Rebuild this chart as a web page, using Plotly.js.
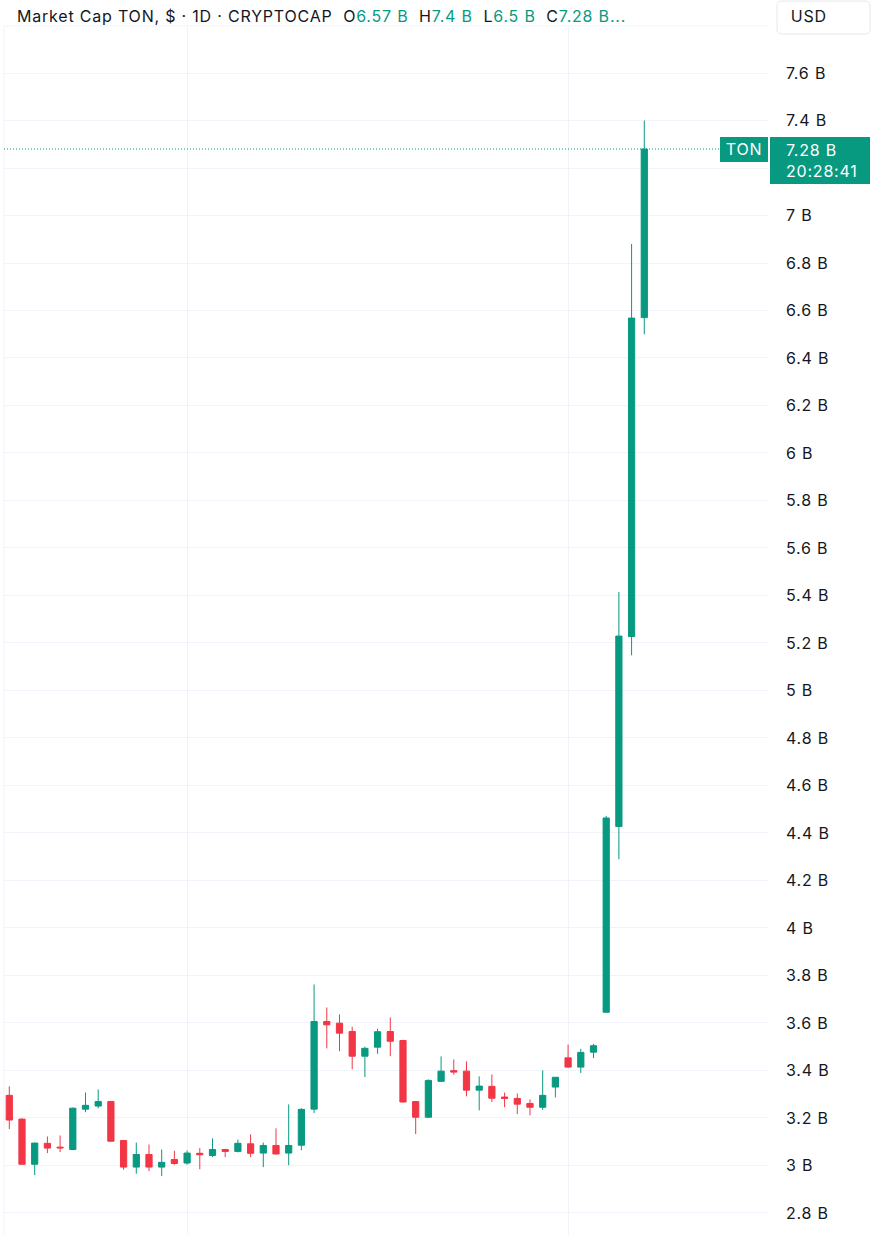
<!DOCTYPE html>
<html>
<head>
<meta charset="utf-8">
<script src="https://cdn.plot.ly/plotly-3.0.1.min.js"></script>
<style>
  html, body { margin: 0; padding: 0; background: #ffffff; }
  #chart { width: 879px; height: 1235px; }
  #chart text { letter-spacing: 0.8px; }
</style>
</head>
<body>
<div id="chart"></div>
<script>
// ---- data (values in billions USD) ----
const dates = [
  "2023-10-18","2023-10-19","2023-10-20","2023-10-21","2023-10-22","2023-10-23","2023-10-24",
  "2023-10-25","2023-10-26","2023-10-27","2023-10-28","2023-10-29","2023-10-30","2023-10-31",
  "2023-11-01","2023-11-02","2023-11-03","2023-11-04","2023-11-05","2023-11-06","2023-11-07",
  "2023-11-08","2023-11-09","2023-11-10","2023-11-11","2023-11-12","2023-11-13","2023-11-14",
  "2023-11-15","2023-11-16","2023-11-17","2023-11-18","2023-11-19","2023-11-20","2023-11-21",
  "2023-11-22","2023-11-23","2023-11-24","2023-11-25","2023-11-26","2023-11-27","2023-11-28",
  "2023-11-29","2023-11-30","2023-12-01","2023-12-02","2023-12-03","2023-12-04","2023-12-05",
  "2023-12-06","2023-12-07"
];
const openV = [
  3.295,3.195,3.005,3.093,3.077,3.067,3.237,3.250,3.269,3.105,
  2.993,3.046,2.993,3.025,3.010,3.051,3.042,3.067,3.059,3.091,
  3.052,3.084,3.052,3.085,3.237,3.606,3.599,3.564,3.460,3.498,
  3.564,3.526,3.269,3.203,3.354,3.399,3.397,3.317,3.333,3.288,
  3.282,3.261,3.245,3.330,3.453,3.414,3.477,3.645,4.427,5.227,
  6.57
];
const highV = [
  3.333,3.198,3.096,3.122,3.126,3.244,3.307,3.320,3.272,3.106,
  3.096,3.088,3.067,3.062,3.063,3.073,3.114,3.070,3.109,3.131,
  3.096,3.156,3.257,3.241,3.762,3.665,3.636,3.584,3.500,3.576,
  3.623,3.529,3.270,3.362,3.459,3.446,3.438,3.375,3.383,3.307,
  3.303,3.278,3.400,3.372,3.509,3.491,3.512,4.472,5.415,6.880,
  7.40
];
const lowV = [
  3.153,3.003,2.959,3.052,3.056,3.064,3.224,3.241,3.100,2.982,
  2.965,2.976,2.955,3.003,3.003,2.984,3.035,3.035,3.055,3.035,
  2.993,3.047,3.001,3.064,3.220,3.493,3.481,3.405,3.372,3.470,
  3.460,3.265,3.132,3.201,3.352,3.382,3.291,3.232,3.267,3.245,
  3.216,3.211,3.234,3.286,3.412,3.389,3.452,3.645,4.289,5.148,
  6.50
];
const closeV = [
  3.191,3.005,3.094,3.073,3.074,3.241,3.253,3.269,3.102,2.993,
  3.046,2.993,3.013,3.008,3.052,3.045,3.067,3.059,3.093,3.051,
  3.084,3.048,3.084,3.236,3.606,3.592,3.557,3.460,3.493,3.563,
  3.523,3.267,3.203,3.358,3.397,3.393,3.317,3.334,3.283,3.282,
  3.258,3.245,3.295,3.371,3.414,3.476,3.504,4.463,5.229,6.568,
  7.28
];
const tickVals = [2.8,3.0,3.2,3.4,3.6,3.8,4.0,4.2,4.4,4.6,4.8,5.0,5.2,5.4,5.6,5.8,6.0,6.2,6.4,6.6,6.8,7.0,7.2,7.4,7.6];
// the 7.2 B label sits under the last-price label in the reference, so it is blank
const tickText = ["2.8 B","3 B","3.2 B","3.4 B","3.6 B","3.8 B","4 B","4.2 B","4.4 B","4.6 B","4.8 B","5 B","5.2 B","5.4 B","5.6 B","5.8 B","6 B","6.2 B","6.4 B","6.6 B","6.8 B","7 B","","7.4 B","7.6 B"];
const symbol = "TON";
const currency = "USD";
const countdown = "20:28:41";

// ---- styles ----
const UP = "#089981", DOWN = "#f23645", TXT = "#131722", GRID = "#f0f3fa";
const FONT = "Inter, Roboto, 'Noto Sans', sans-serif";
const DAY = 86400000;

const last = closeV.length - 1;
const fmt = v => parseFloat(v.toFixed(2)) + "\u00a0B";
const g = s => '<span style="color:' + UP + '">' + s + '</span>';
const sp = "\u00a0\u00a0";
const header = "Market Cap TON, $ · 1D · CRYPTOCAP" + sp +
  "O" + g(fmt(openV[last])) + sp + "H" + g(fmt(highV[last])) + sp +
  "L" + g(fmt(lowV[last])) + sp + "C" + g(fmt(closeV[last]) + "...");

const t0 = new Date(dates[0] + "T00:00:00Z").getTime();
const xr = [new Date(t0 - 0.417 * DAY).toISOString(), new Date(t0 + 59.82 * DAY).toISOString()];

const trace = {
  type: "candlestick",
  x: dates, open: openV, high: highV, low: lowV, close: closeV,
  increasing: { line: { color: UP, width: 1 }, fillcolor: UP },
  decreasing: { line: { color: DOWN, width: 1 }, fillcolor: DOWN },
  whiskerwidth: 0,
  hoverinfo: "skip",
  showlegend: false
};

// rounded rectangle path in pixel offsets (y positive = up)
function rrect(x0, x1, yTop, yBot, r) {
  return `M ${x0 + r} ${yTop} L ${x1 - r} ${yTop} Q ${x1} ${yTop} ${x1} ${yTop - r} ` +
         `L ${x1} ${yBot + r} Q ${x1} ${yBot} ${x1 - r} ${yBot} L ${x0 + r} ${yBot} ` +
         `Q ${x0} ${yBot} ${x0} ${yBot + r} L ${x0} ${yTop - r} Q ${x0} ${yTop} ${x0 + r} ${yTop} Z`;
}

const layout = {
  width: 879, height: 1235,
  margin: { l: 4, r: 110, t: 26, b: 0, pad: 0 },
  paper_bgcolor: "#ffffff", plot_bgcolor: "#ffffff",
  font: { family: FONT, size: 16, color: TXT },
  boxgap: 0.3,
  hovermode: false,
  xaxis: {
    type: "date", range: xr,
    rangeslider: { visible: false },
    showticklabels: false, ticks: "",
    showgrid: true, gridcolor: GRID, gridwidth: 1,
    dtick: "M1", tick0: "2023-11-01",
    zeroline: false, showline: false, fixedrange: true
  },
  yaxis: {
    side: "right", range: [2.707, 7.798],
    tickmode: "array", tickvals: tickVals, ticktext: tickText,
    ticks: "", ticklabelstandoff: 16,
    tickfont: { family: FONT, size: 16, color: TXT },
    showgrid: true, gridcolor: GRID, gridwidth: 1,
    zeroline: false, showline: false, fixedrange: true
  },
  shapes: [
    { type: "line", xref: "paper", yref: "paper", x0: 0, x1: 0, y0: 0, y1: 1,
      line: { color: GRID, width: 1 } },
    { type: "line", xref: "paper", yref: "paper", x0: 0, x1: 1, y0: 1, y1: 1,
      line: { color: GRID, width: 1 } },
    { type: "line", xref: "paper", yref: "y", x0: 0, x1: 0.935, y0: closeV[last], y1: closeV[last],
      line: { color: UP, width: 1, dash: "1px,2px" } },
    // USD box
    { type: "path", xref: "paper", yref: "paper", xsizemode: "pixel", ysizemode: "pixel",
      xanchor: 1, yanchor: 1, path: rrect(8, 101, 25, -8, 5),
      line: { color: "#e6e8ee", width: 1 }, fillcolor: "#ffffff", layer: "above" },
    // symbol label box
    { type: "rect", xref: "paper", yref: "y", xsizemode: "pixel", ysizemode: "pixel",
      xanchor: 1, yanchor: closeV[last], x0: -49, x1: -1, y0: 12, y1: -13,
      line: { width: 0 }, fillcolor: UP, layer: "above" },
    // price label box
    { type: "rect", xref: "paper", yref: "y", xsizemode: "pixel", ysizemode: "pixel",
      xanchor: 1, yanchor: closeV[last], x0: 1, x1: 101, y0: 12, y1: -35,
      line: { width: 0 }, fillcolor: UP, layer: "above" }
  ],
  annotations: [
    { xref: "paper", yref: "paper", x: 0, y: 1, xanchor: "left", yanchor: "middle",
      xshift: 11, yshift: 10, showarrow: false, align: "left",
      text: header, font: { family: FONT, size: 16, color: TXT } },
    { xref: "paper", yref: "paper", x: 1, y: 1, xanchor: "left", yanchor: "middle",
      xshift: 21, yshift: 10, showarrow: false, text: currency,
      font: { family: FONT, size: 16, color: TXT } },
    { xref: "paper", yref: "y", x: 1, y: closeV[last], xanchor: "center", yanchor: "middle",
      xshift: -25, showarrow: false, text: symbol,
      font: { family: FONT, size: 16, color: "#ffffff" } },
    { xref: "paper", yref: "y", x: 1, y: closeV[last], xanchor: "left", yanchor: "middle",
      xshift: 15, yshift: -11, showarrow: false, align: "left",
      text: fmt(closeV[last]) + "<br>" + countdown,
      font: { family: FONT, size: 16, color: "#ffffff" } }
  ]
};

Plotly.newPlot("chart", [trace], layout, { staticPlot: true, displayModeBar: false });
</script>
</body>
</html>
